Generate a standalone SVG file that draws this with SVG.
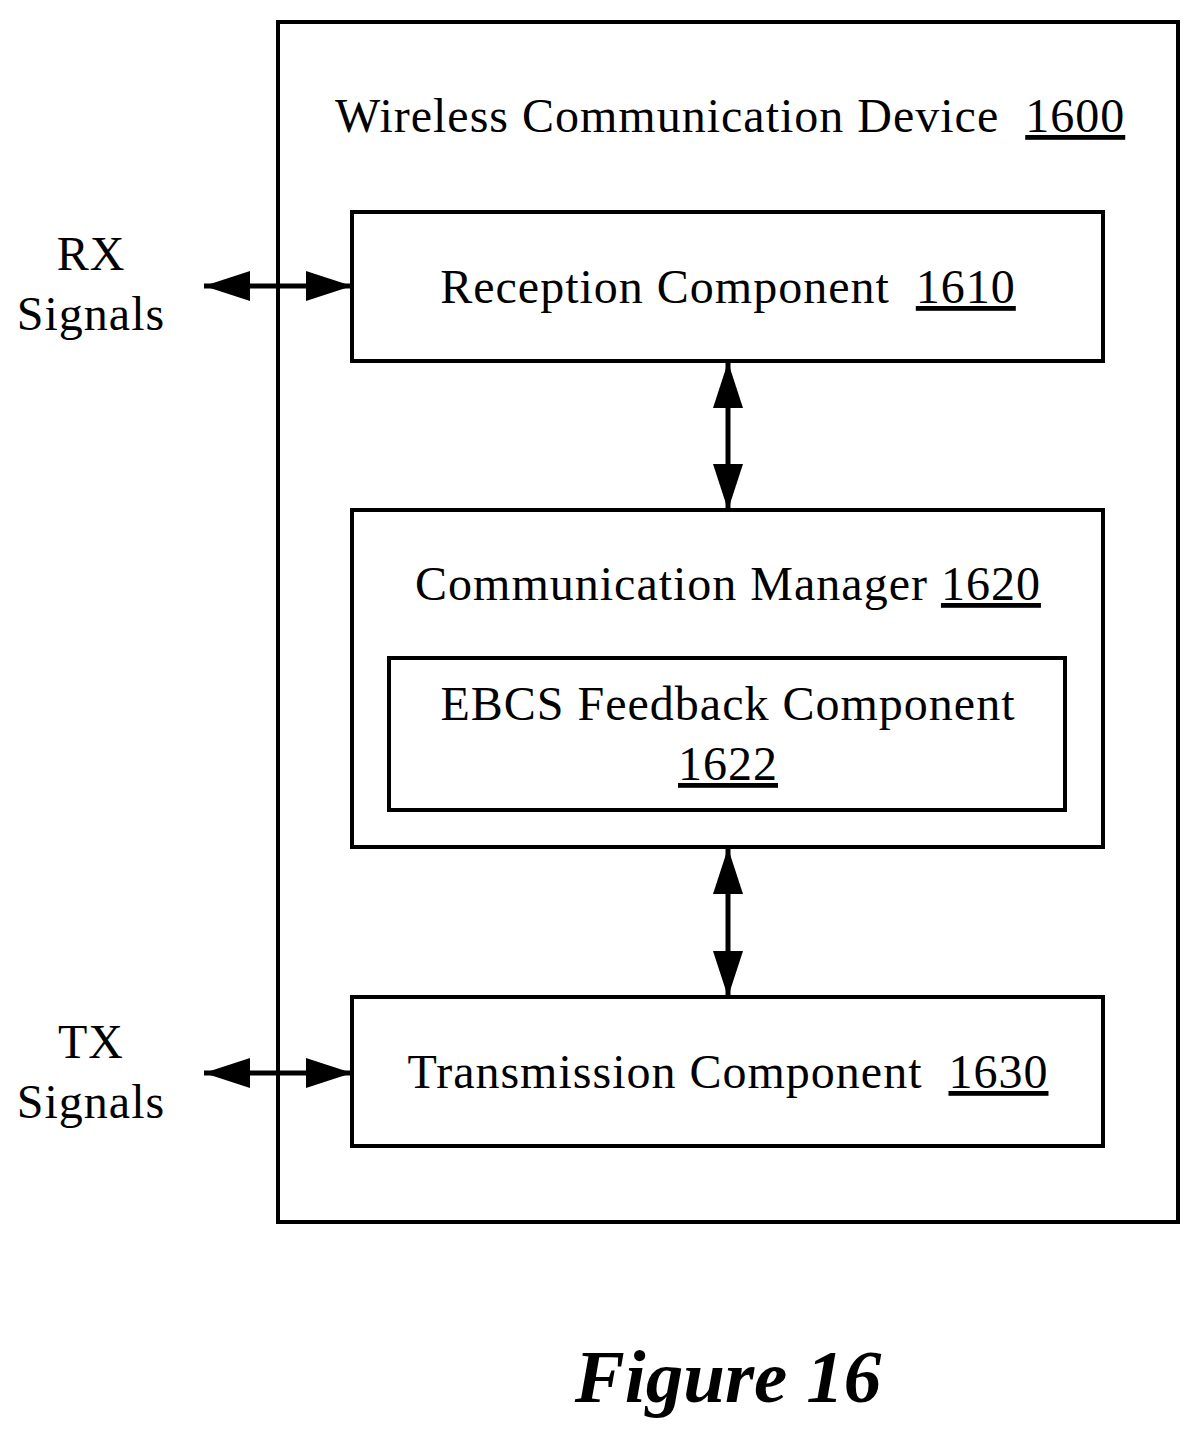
<svg xmlns="http://www.w3.org/2000/svg" width="1201" height="1438" viewBox="0 0 1201 1438">
<style>
.box{fill:#fff;stroke:#000;stroke-width:4}
.t{font-family:"Liberation Serif",serif;font-size:48px;letter-spacing:1px;fill:#000;white-space:pre}
.c{text-anchor:middle}
.u{text-decoration:underline}
.ln{stroke:#000;stroke-width:5;fill:none}
</style>
<defs>
<marker id="ah" viewBox="0 0 46 30" refX="46" refY="15" markerWidth="46" markerHeight="30" markerUnits="userSpaceOnUse" orient="auto-start-reverse">
<path d="M0,0 L46,15 L0,30 Z" fill="#000"/>
</marker>
</defs>
<rect width="1201" height="1438" fill="#fff"/>
<g id="device">
<rect class="box" x="278" y="22" width="900" height="1200"/>
<text class="t" x="335" y="132" xml:space="preserve">Wireless Communication Device  <tspan class="u">1600</tspan></text>
</g>
<g id="reception">
<rect class="box" x="352" y="212" width="751" height="149"/>
<text class="t c" x="728" y="303" xml:space="preserve">Reception Component  <tspan class="u">1610</tspan></text>
</g>
<g id="manager">
<rect class="box" x="352" y="510" width="751" height="337"/>
<text class="t c" x="728" y="600">Communication Manager <tspan class="u">1620</tspan></text>
</g>
<g id="ebcs">
<rect class="box" x="389" y="658" width="676" height="152"/>
<text class="t c" x="728" y="720">EBCS Feedback Component</text>
<text class="t c u" x="728" y="780">1622</text>
</g>
<g id="transmission">
<rect class="box" x="352" y="997" width="751" height="149"/>
<text class="t c" x="728" y="1088" xml:space="preserve">Transmission Component  <tspan class="u">1630</tspan></text>
</g>
<g id="labels">
<text class="t c" x="91" y="270">RX</text>
<text class="t c" x="91" y="330">Signals</text>
<text class="t c" x="91" y="1058">TX</text>
<text class="t c" x="91" y="1118">Signals</text>
<text x="728" y="1402" text-anchor="middle" font-family="Liberation Serif,serif" font-size="75" font-weight="bold" font-style="italic">Figure 16</text>
</g>
<g id="connectors">
<line class="ln" x1="204" y1="286" x2="352" y2="286" marker-start="url(#ah)" marker-end="url(#ah)"/>
<line class="ln" x1="204" y1="1073" x2="352" y2="1073" marker-start="url(#ah)" marker-end="url(#ah)"/>
<line class="ln" x1="728" y1="362" x2="728" y2="510" marker-start="url(#ah)" marker-end="url(#ah)"/>
<line class="ln" x1="728" y1="848" x2="728" y2="997" marker-start="url(#ah)" marker-end="url(#ah)"/>
</g>
</svg>
